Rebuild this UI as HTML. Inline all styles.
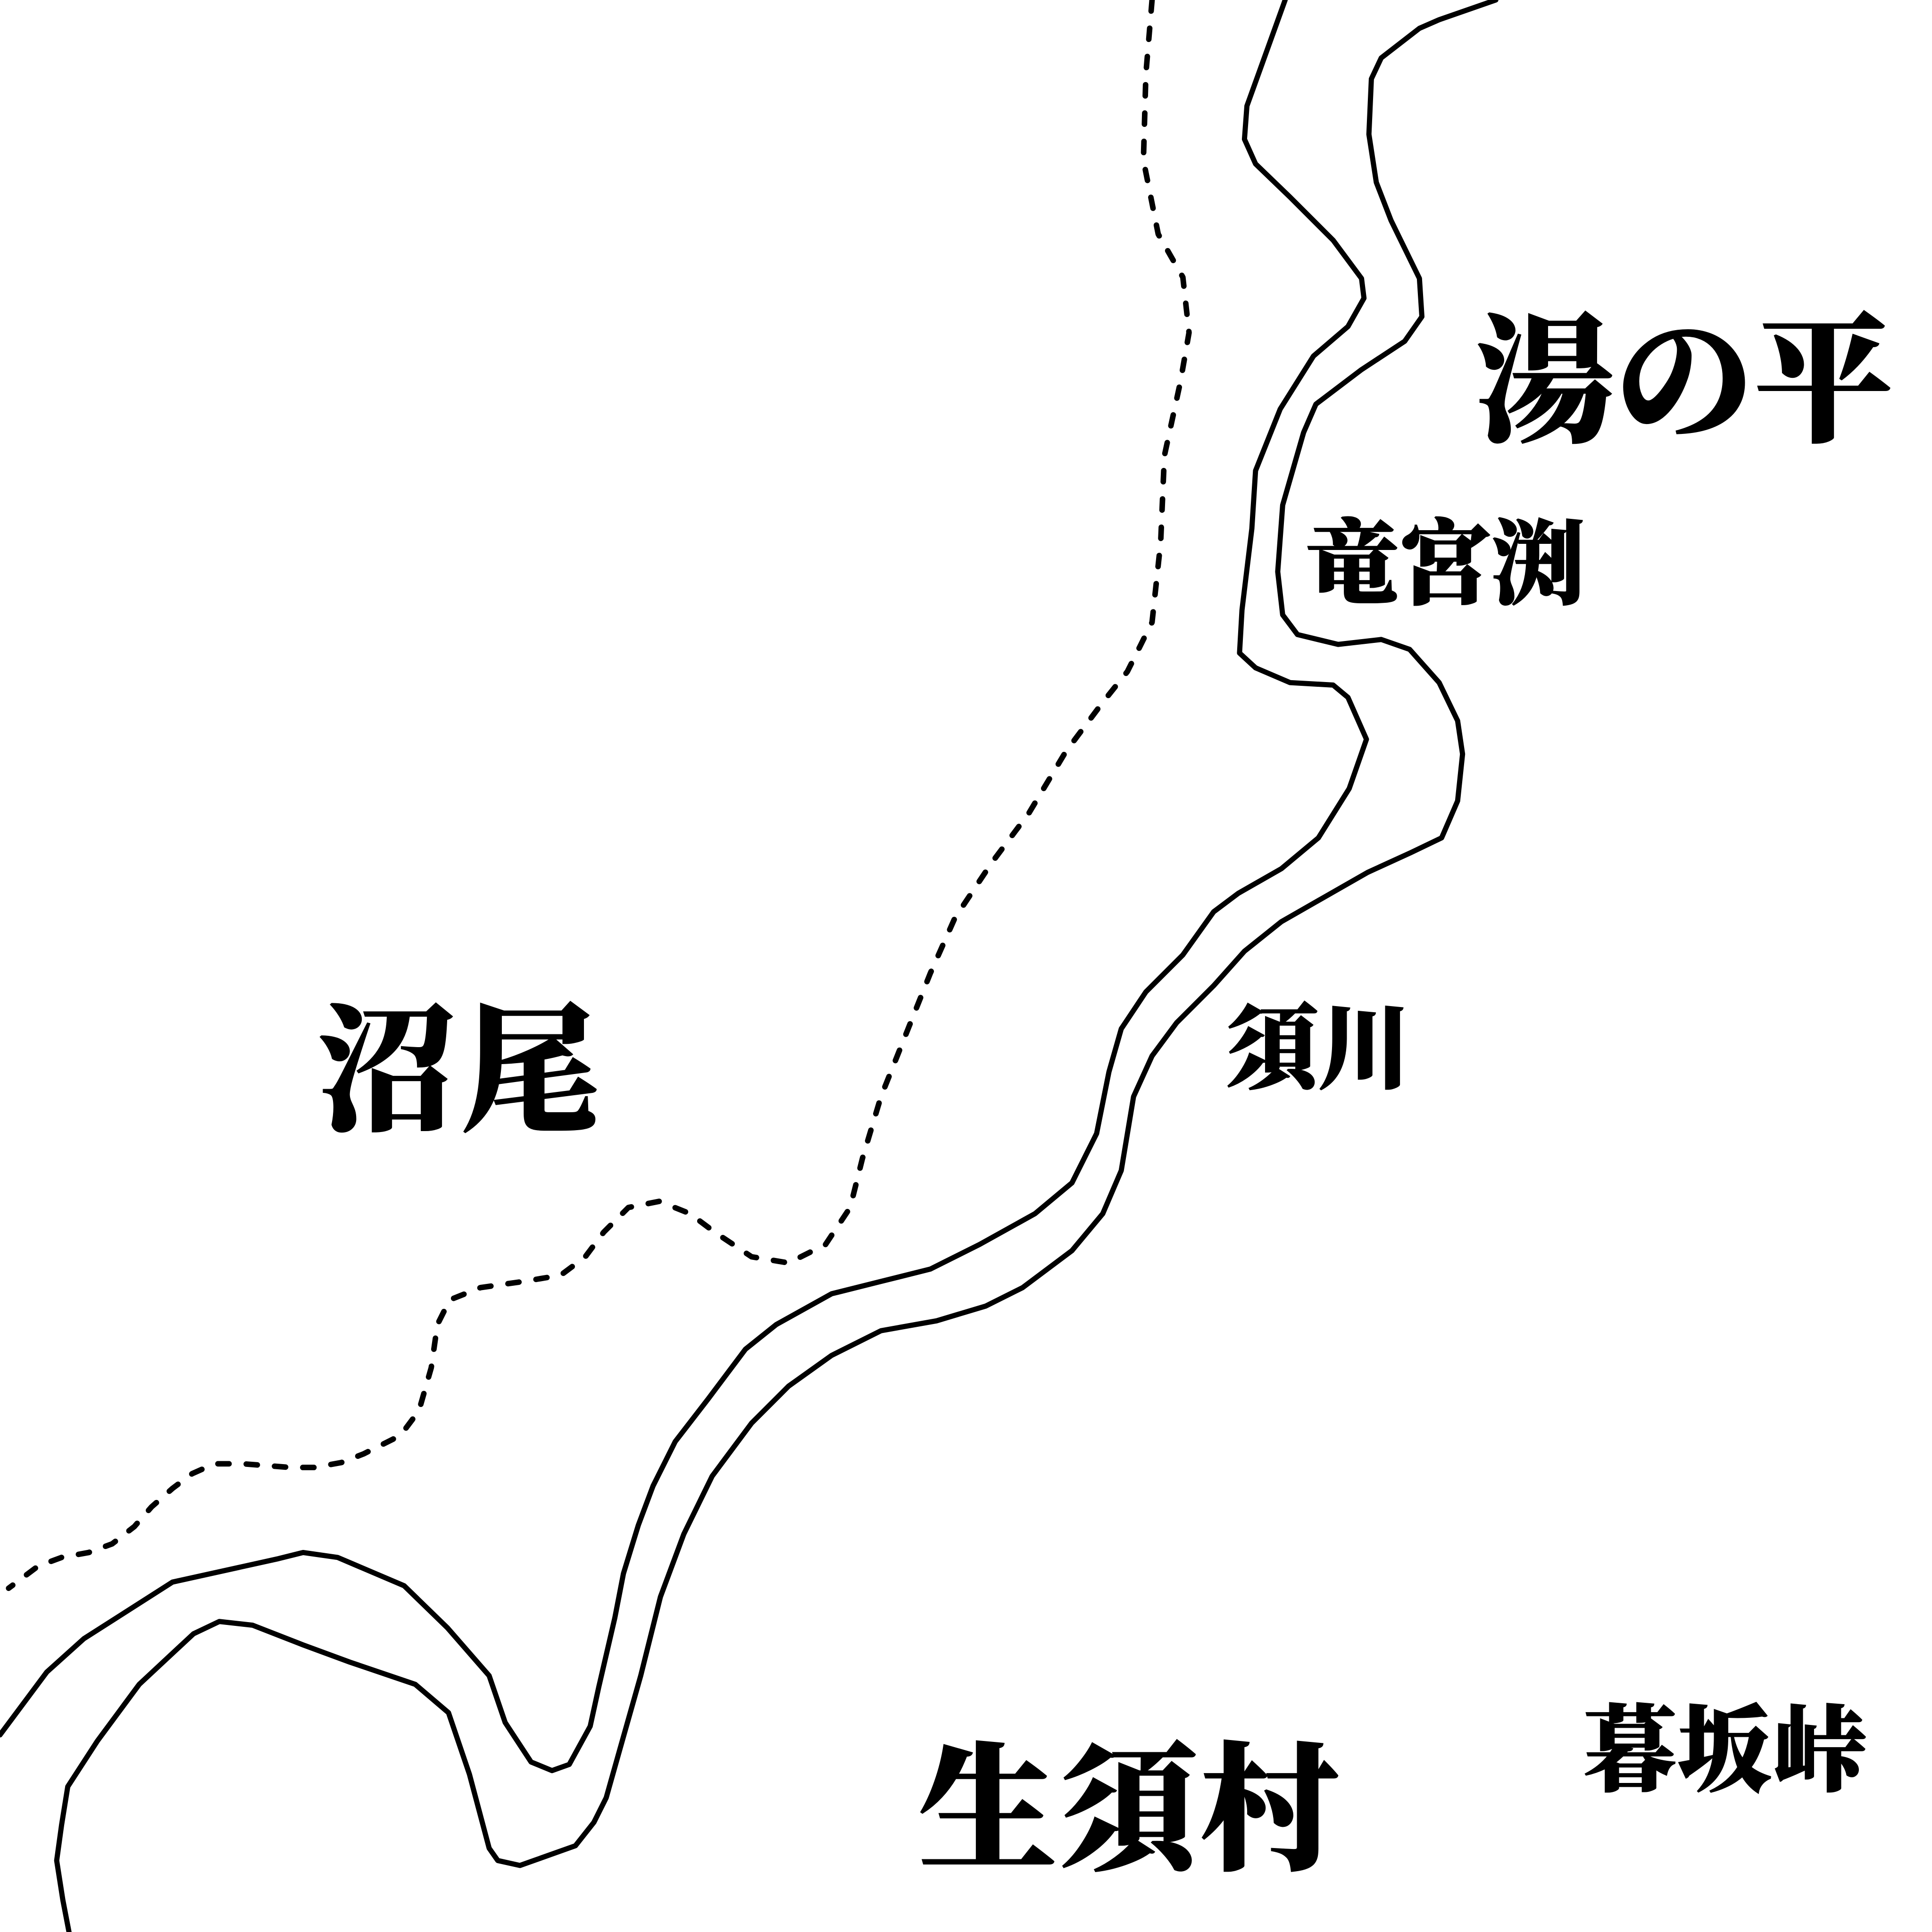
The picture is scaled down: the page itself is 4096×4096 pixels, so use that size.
<!DOCTYPE html>
<html><head><meta charset="utf-8"><style>
html,body{margin:0;padding:0;background:#fff;}
svg{display:block;}
text{font-family:"Liberation Serif","Noto Serif CJK SC","Noto Serif CJK JP",serif;font-weight:900;fill:#000;stroke:#000;stroke-width:1.2;}
</style></head><body>
<svg width="4096" height="4096" viewBox="0 0 1568 1568" xmlns="http://www.w3.org/2000/svg">
<rect width="1568" height="1568" fill="#fff"/>
<g fill="none" stroke="#000" stroke-width="4.2" stroke-linejoin="round" stroke-linecap="round">
<polyline points="1043,0 1012,86 1010,113 1019,133 1047,160 1082,195 1105,226 1107,242 1094,265 1066,289 1039,332 1019,382 1016,429 1008,495 1006,530 1019,542 1047,554 1082,556 1094,566 1109,600 1095,640 1070,680 1040,705 1005,725 985,740 960,775 930,805 910,835 900,870 890,920 870,960 840,985 795,1010 755,1030 715,1040 675,1050 630,1075 605,1095 575,1135 548,1170 530,1206 518,1238 506,1277 499,1313 486,1369 479,1401 462,1432 448,1437 431,1430 410,1398 397,1360 363,1321 328,1287 274,1264 246,1260 226,1265 140,1284 68,1330 38,1357 0,1408"/>
<polyline points="1214,0 1168,16 1152,23 1121,47 1113,64 1111,109 1117,148 1129,179 1152,226 1154,257 1140,277 1105,300 1068,328 1058,351 1041,410 1037,464 1041,499 1053,515 1086,523 1121,519 1144,527 1168,554 1183,585 1187,612 1183,650 1170,680 1145,692 1110,708 1075,728 1040,748 1010,772 985,800 955,830 935,857 920,890 910,950 895,985 870,1015 830,1045 800,1060 760,1072 715,1080 675,1100 640,1125 610,1155 578,1198 555,1245 536,1296 520,1360 503,1420 492,1459 482,1479 467,1498 422,1514 404,1510 397,1500 381,1440 364,1390 337,1367 284,1349 246,1335 205,1319 178,1316 157,1326 113,1367 79,1413 55,1450 50,1481 46,1510 51,1542 56,1568"/>
<polyline stroke-width="4.5" stroke-dasharray="9 14" points="935,0 930,60 928,130 940,190 960,225 965,270 958,310 945,370 942,440 935,505 915,545 895,570 865,610 835,660 805,700 775,745 755,790 735,840 715,890 700,940 690,980 670,1010 640,1025 610,1020 580,1000 560,985 535,975 510,980 490,1000 475,1020 455,1035 425,1040 390,1045 365,1055 355,1075 350,1110 340,1145 325,1165 295,1180 277,1187 255,1191 236,1191 197,1188 174,1188 156,1196 140,1208 123,1223 109,1239 91,1253 72,1260 50,1264 31,1271 7,1289"/>
</g>
<text x="1198" y="349" font-size="112" textLength="338">湯の平</text>
<text x="1060" y="484" font-size="75" textLength="226">竜宮渕</text>
<text x="258" y="908" font-size="112" textLength="228">沼尾</text>
<text x="995" y="877" font-size="75" textLength="150">須川</text>
<text x="746" y="1508" font-size="112" textLength="340">生須村</text>
<text x="1285" y="1447" font-size="76" textLength="230">暮坂峠</text>
</svg>
</body></html>
